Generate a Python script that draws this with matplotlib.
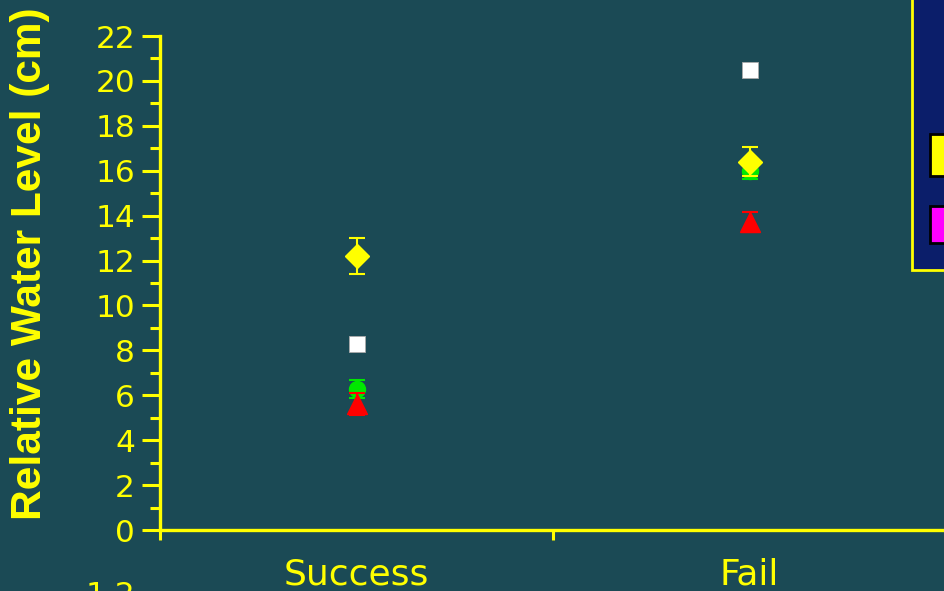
import matplotlib
matplotlib.use("Agg")
import matplotlib.pyplot as plt
from matplotlib.patches import Rectangle
from matplotlib.ticker import MultipleLocator, FixedLocator

# Outcome categories and measured water levels (cm)
categories = ["Success", "Fail"]
yellow_mean = [12.2, 16.4]
yellow_err = [0.8, 0.65]
white_mean = [8.3, 20.5]
green_mean = [6.3, 16.0]
green_err = [0.4, 0.35]
red_mean = [5.6, 13.7]
red_err = [0.5, 0.45]
y_ticks = list(range(0, 23, 2))

BG = "#1B4A55"
YEL = "#FFFF00"

plt.rcParams["font.family"] = ["DejaVu Sans"]

W, H = 944, 591
fig = plt.figure(figsize=(W / 100, H / 100), dpi=100, facecolor=BG)
ax = fig.add_axes([160 / W, (H - 530) / H, 786 / W, (530 - 36) / H])
ax.set_facecolor(BG)

x = [0.5 + i for i in range(len(categories))]

ax.plot(x, white_mean, linestyle="none", marker="s", ms=11.5,
        mfc="white", mec="#AAAAAA", mew=0.6, zorder=3)
ax.errorbar(x, green_mean, yerr=green_err, fmt="o", ms=11.5, color="#00E800",
            ecolor="#00E800", elinewidth=1.5, capsize=6, capthick=1.5, zorder=4)
ax.errorbar(x, red_mean, yerr=red_err, fmt="^", ms=14, color="#FF0000",
            ecolor="#FF0000", elinewidth=1.5, capsize=6, capthick=1.5, zorder=5)
ax.errorbar(x, yellow_mean, yerr=yellow_err, fmt="D", ms=12, color=YEL,
            ecolor=YEL, elinewidth=1.5, capsize=6, capthick=1.5, zorder=6)

ax.set_xlim(0, 2)
ax.set_ylim(0, 22)

for side in ["top", "right"]:
    ax.spines[side].set_visible(False)
for side in ["left", "bottom"]:
    ax.spines[side].set_color(YEL)
    ax.spines[side].set_linewidth(2.4)

ax.yaxis.set_major_locator(FixedLocator(y_ticks))
ax.yaxis.set_minor_locator(MultipleLocator(1))
ax.tick_params(axis="y", which="major", direction="out", length=13, width=2.2,
               color=YEL, labelcolor=YEL, labelsize=22.5, pad=5)
ax.tick_params(axis="y", which="minor", direction="out", length=7, width=2.2,
               color=YEL)

ax.xaxis.set_major_locator(FixedLocator([0, 1, 2]))
ax.xaxis.set_major_formatter(plt.NullFormatter())
ax.xaxis.set_minor_locator(FixedLocator(x))
ax.set_xticks(x, categories, minor=True)
ax.tick_params(axis="x", which="major", direction="out", length=7, width=2.2,
               color=YEL)
ax.tick_params(axis="x", which="minor", length=0, labelcolor=YEL,
               labelsize=26, pad=20)

ylab = ax.set_ylabel("Relative Water Level (cm)", color=YEL, fontsize=30.5,
                     fontweight="bold")
ylab.set_fontfamily(["Liberation Sans", "DejaVu Sans"])
ax.yaxis.set_label_coords(-110 / 786, 266 / 494)

# Legend panel at the right edge
fig.patches.append(Rectangle((912 / W, (H - 270) / H), 60 / W, 280 / H,
                             transform=fig.transFigure, facecolor="#0B1E6A",
                             edgecolor=YEL, linewidth=2, zorder=1))
fig.patches.append(Rectangle((930 / W, (H - 176) / H), 30 / W, 42 / H,
                             transform=fig.transFigure, facecolor=YEL,
                             edgecolor="black", linewidth=2, zorder=2))
fig.patches.append(Rectangle((930 / W, (H - 243) / H), 30 / W, 37 / H,
                             transform=fig.transFigure, facecolor="#FF00FF",
                             edgecolor="black", linewidth=2, zorder=2))

fig.text(86 / W, (H - 610) / H, "1.2", color=YEL, fontsize=22.5, ha="left",
         va="bottom")

fig.savefig("out.png", dpi=100, facecolor=BG)
